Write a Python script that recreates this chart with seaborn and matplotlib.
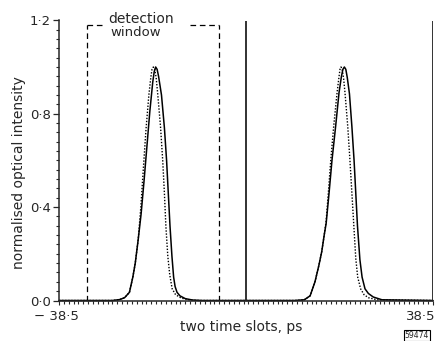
import matplotlib
matplotlib.use("Agg")
import matplotlib.pyplot as plt
from matplotlib.ticker import FixedLocator
import numpy as np
import pandas as pd
import seaborn as sns

# ---------------- data ----------------
# solid trace: pulse in slot 1, then pulse in slot 2 (ps, normalised intensity)
solid_t = [-38.5, -27.5, -26.0, -25.0, -24.0, -23.3, -22.8, -22.2, -21.6, -21.0,
           -20.4, -19.8, -19.2, -18.9, -18.6, -18.3, -18.0, -17.4, -16.8, -16.35,
           -16.0, -15.65, -15.25, -14.9, -14.6, -14.2, -13.6, -12.5, -11.0, -9.0,
           10.0, 12.0, 13.2, 14.2, 15.0, 15.6, 16.1, 16.5, 17.1, 17.7,
           18.45, 19.15, 19.65, 19.95, 20.25, 20.55, 20.85, 21.3, 21.8, 22.25,
           22.6, 22.95, 23.45, 23.9, 24.5, 25.2, 26.2, 28.0, 38.5]
solid_y = [0.0, 0.0, 0.004, 0.012, 0.035, 0.10, 0.16, 0.26, 0.37, 0.51,
           0.66, 0.81, 0.935, 0.98, 1.0, 0.99, 0.96, 0.88, 0.74, 0.60,
           0.46, 0.32, 0.19, 0.10, 0.06, 0.035, 0.02, 0.008, 0.002, 0.0,
           0.0, 0.003, 0.02, 0.08, 0.15, 0.21, 0.28, 0.33, 0.46, 0.60,
           0.745, 0.89, 0.96, 0.99, 1.0, 0.99, 0.955, 0.885, 0.745, 0.60,
           0.46, 0.32, 0.175, 0.10, 0.05, 0.03, 0.015, 0.003, 0.0]

# dotted trace
dotted_t = [-38.5, -27.5, -26.0, -25.0, -24.0, -23.3, -22.8, -22.2, -21.65, -21.15,
            -20.6, -20.0, -19.6, -19.35, -19.08, -18.8, -18.5, -18.2, -17.6, -17.15,
            -16.8, -16.5, -16.1, -15.7, -15.2, -14.5, -13.3, -11.5, -9.5,
            10.0, 12.0, 13.2, 14.2, 15.0, 15.6, 16.1, 16.5, 16.95, 17.45,
            18.05, 18.75, 19.1, 19.35, 19.56, 19.8, 20.1, 20.4, 20.95, 21.4,
            21.8, 22.2, 22.6, 23.0, 23.6, 24.3, 25.2, 27.0, 38.5]
dotted_y = [0.0, 0.0, 0.004, 0.012, 0.035, 0.10, 0.16, 0.26, 0.40, 0.56,
            0.73, 0.88, 0.955, 0.99, 1.0, 0.99, 0.955, 0.89, 0.745, 0.60,
            0.46, 0.32, 0.19, 0.11, 0.05, 0.025, 0.01, 0.002, 0.0,
            0.0, 0.003, 0.02, 0.08, 0.15, 0.21, 0.28, 0.34, 0.46, 0.60,
            0.745, 0.89, 0.95, 0.99, 1.0, 0.99, 0.95, 0.885, 0.745, 0.60,
            0.46, 0.32, 0.18, 0.10, 0.05, 0.025, 0.012, 0.003, 0.0]

# detection window (dashed box) and slot boundaries
window_left, window_right, window_top = -32.7, -5.6, 1.178
window_gap = (-29.45, -11.5)
slot_edges = [0.0, 38.5]
slot_line_top = 1.195

x_range = (-38.5, 38.5)
y_major = [0.0, 0.4, 0.8, 1.2]
y_major_labels = ["0·0", "0·4", "0·8", "1·2"]
x_end_labels = ["− 38·5", "38·5"]

# ---------------- plotting ----------------
sns.set_theme(style="ticks")
plt.rcParams['font.family'] = ['DejaVu Sans']
plt.rcParams['axes.linewidth'] = 1.1

W, H = 440, 341
fig = plt.figure(figsize=(W / 100, H / 100), dpi=100)
ax = fig.add_axes([59 / W, 1 - 300.5 / H, (433 - 59) / W, (300.5 - 20.3) / H])

df_solid = pd.DataFrame({"t": solid_t, "y": solid_y})
df_dot = pd.DataFrame({"t": dotted_t, "y": dotted_y})

sns.lineplot(data=df_solid, x="t", y="y", sort=False, estimator=None,
             color="black", lw=1.1, ax=ax, clip_on=False)
sns.lineplot(data=df_dot, x="t", y="y", sort=False, estimator=None,
             color="black", lw=1.0, ls=(0, (1.0, 1.2)), ax=ax, clip_on=False)

# slot boundaries
ax.vlines(slot_edges, 0, slot_line_top, color="#222222", lw=1.3)

# detection window
box_kw = dict(color="black", lw=0.9, linestyle="--", dashes=(4.5, 3.0))
ax.plot([window_left, window_left], [0, window_top], **box_kw)
ax.plot([window_right, window_right], [0, window_top], **box_kw)
ax.plot([window_left, window_gap[0]], [window_top, window_top], **box_kw)
ax.plot([window_gap[1], window_right], [window_top, window_top], **box_kw)
ax.text(-21.66, 1.207, "detection", ha="center", va="center", fontsize=10)
ax.text(-22.69, 1.146, "window", ha="center", va="center", fontsize=9.5)

ax.set_xlim(*x_range)
ax.set_ylim(0, 1.2)
sns.despine(ax=ax, top=True, right=True)

ax.yaxis.set_major_locator(FixedLocator(y_major))
ax.set_yticklabels(y_major_labels, fontsize=9.5)
ax.yaxis.set_minor_locator(FixedLocator(np.round(np.arange(0, 1.2001, 0.04), 3)))
ax.xaxis.set_major_locator(FixedLocator(list(x_range)))
ax.set_xticklabels(["", ""])
ax.xaxis.set_minor_locator(FixedLocator(np.arange(x_range[0], x_range[1] + 0.01, 1.0)))
ax.tick_params(axis="y", which="major", length=4, width=0.9, pad=2, direction="out")
ax.tick_params(axis="y", which="minor", length=2.5, width=0.8, direction="out")
ax.tick_params(axis="x", which="major", length=3, width=0.8, direction="out")
ax.tick_params(axis="x", which="minor", length=2.5, width=0.8, direction="out")
ax.set_xlabel("")
ax.set_ylabel("")

ax.text(x_range[0] - 0.6, -0.068, x_end_labels[0], ha="center", va="center",
        fontsize=9.5, clip_on=False)
ax.text(x_range[1] + 0.6, -0.068, x_end_labels[1], ha="right", va="center",
        fontsize=9.5, clip_on=False)

fig.text(241 / W, 1 - 326.5 / H, "two time slots, ps", ha="center", va="center", fontsize=10)
fig.text(19 / W, 1 - 173 / H, "normalised optical intensity", ha="center", va="center",
         rotation=90, fontsize=10)
fig.text(417 / W, 1 - 335.5 / H, "59474", ha="center", va="center", fontsize=5.5,
         bbox=dict(boxstyle="square,pad=0.15", fc="white", ec="black", lw=0.8))

fig.savefig("out.png", dpi=100)
